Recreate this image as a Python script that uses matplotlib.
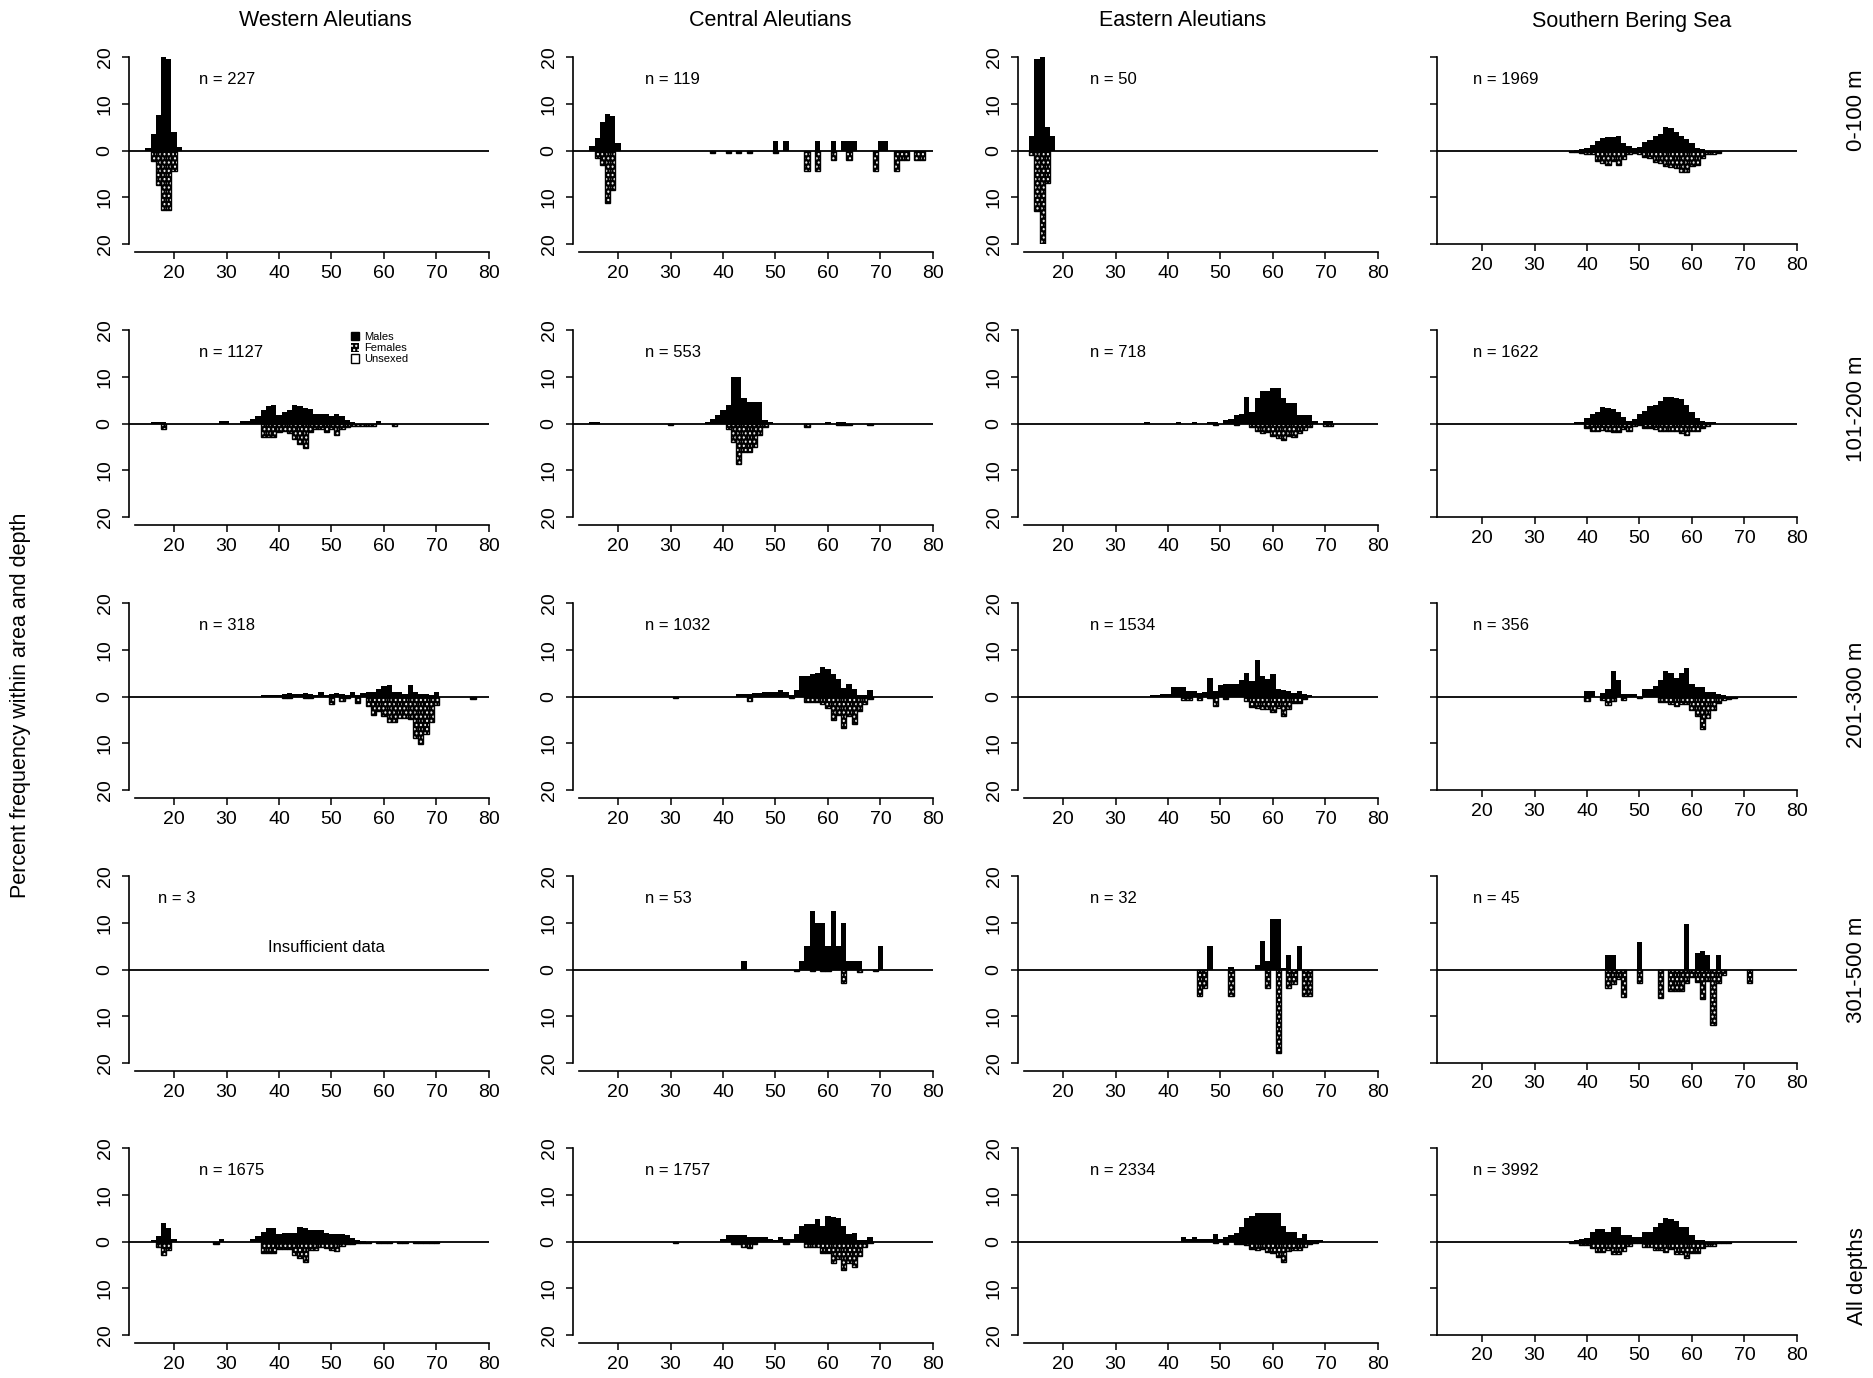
import matplotlib.pyplot as plt
from matplotlib.patches import Patch

plt.rcParams['font.family'] = ['Liberation Sans', 'DejaVu Sans']
plt.rcParams['hatch.linewidth'] = 1.0

areas = ["Western Aleutians", "Central Aleutians", "Eastern Aleutians", "Southern Bering Sea"]
depths = ["0-100 m", "101-200 m", "201-300 m", "301-500 m", "All depths"]
n_fish = [[227, 119, 50, 1969],
          [1127, 553, 718, 1622],
          [318, 1032, 1534, 356],
          [3, 53, 32, 45],
          [1675, 1757, 2334, 3992]]

# percent frequency by length (cm); males drawn up, females drawn down
wa_0100_m = {15: 0.5, 16: 3.5, 17: 7.5, 18: 20, 19: 19.5, 20: 4, 21: 0.8}
wa_0100_f = {16: 2.2, 17: 7.4, 18: 12.7, 19: 12.7, 20: 4.3}
ca_0100_m = {15: 0.9, 16: 2.6, 17: 6.2, 18: 7.8, 19: 7.4, 20: 1.7, 50: 2.1, 52: 2.1, 58: 2.1,
             61: 2.1, 63: 2.1, 64: 2.1, 65: 2.1, 70: 2.1, 71: 2.1}
ca_0100_f = {16: 1.6, 17: 3.0, 18: 11.3, 19: 8.4, 38: 0.5, 41: 0.5, 43: 0.5, 45: 0.5, 50: 0.5,
             56: 4.4, 58: 4.4, 61: 2.0, 64: 2.0, 69: 4.4, 73: 4.4, 74: 2.0, 75: 2.0, 77: 2.0, 78: 2.0}
ea_0100_m = {14: 3, 15: 19.5, 16: 20, 17: 5, 18: 3}
ea_0100_f = {14: 0.9, 15: 13, 16: 21, 17: 7}
sb_0100_m = {38: 0.2, 39: 0.3, 40: 0.5, 41: 1.2, 42: 2.0, 43: 2.7, 44: 2.8, 45: 2.8, 46: 3.0, 47: 1.5,
             48: 1.0, 49: 0.5, 50: 0.8, 51: 1.8, 52: 2.2, 53: 3.0, 54: 3.5, 55: 5.0, 56: 4.8, 57: 4.0,
             58: 3.0, 59: 2.5, 60: 1.5, 61: 0.5, 62: 0.3}
sb_0100_f = {37: 0.3, 38: 0.4, 39: 0.5, 40: 0.7, 41: 0.8, 42: 2.3, 43: 2.6, 44: 3.2, 45: 2.2, 46: 3.2,
             47: 1.8, 48: 0.8, 49: 0.6, 50: 0.8, 51: 1.3, 52: 1.5, 53: 2.4, 54: 2.6, 55: 3.3, 56: 3.6,
             57: 3.8, 58: 4.5, 59: 4.6, 60: 3.3, 61: 3.0, 62: 1.6, 63: 0.8, 64: 0.7, 65: 0.5}

wa_0200_m = {16: 0.4, 17: 0.4, 18: 0.4, 29: 0.5, 30: 0.5, 33: 0.5, 34: 0.5, 35: 0.9, 36: 1.6, 37: 2.9,
             38: 3.8, 39: 3.9, 40: 1.9, 41: 2.5, 42: 2.9, 43: 3.9, 44: 3.8, 45: 3.4, 46: 3.1, 47: 2.1,
             48: 2.1, 49: 2.1, 50: 1.6, 51: 2.1, 52: 1.6, 53: 0.7, 54: 0.4, 59: 0.5}
wa_0200_f = {18: 1.2, 37: 2.9, 38: 2.9, 39: 2.9, 40: 1.9, 41: 1.5, 42: 2.0, 43: 3.4, 44: 4.3, 45: 5.2,
             46: 1.9, 47: 1.2, 48: 1.2, 49: 1.9, 50: 1.1, 51: 2.4, 52: 1.2, 53: 0.7, 54: 0.6, 55: 0.5,
             56: 0.5, 57: 0.5, 58: 0.5, 62: 0.5}
ca_0200_m = {15: 0.4, 16: 0.4, 37: 0.4, 38: 0.9, 39: 1.8, 40: 2.9, 41: 3.9, 42: 10, 43: 10, 44: 5.4,
             45: 4.5, 46: 4.5, 47: 4.5, 48: 0.7, 49: 0.4, 60: 0.4, 62: 0.4, 63: 0.3}
ca_0200_f = {30: 0.4, 41: 1.1, 42: 3.9, 43: 8.6, 44: 6.2, 45: 6.2, 46: 5.0, 47: 2.5, 48: 0.8,
             56: 0.7, 62: 0.4, 63: 0.4, 64: 0.4, 68: 0.4}
ea_0200_m = {36: 0.4, 42: 0.4, 45: 0.4, 48: 0.4, 49: 0.4, 51: 0.7, 52: 0.9, 53: 1.8, 54: 2.1,
             55: 5.6, 56: 2.5, 57: 5.5, 58: 7.0, 59: 7.0, 60: 7.6, 61: 7.6, 62: 5.5, 63: 4.3, 64: 4.3,
             65: 1.9, 66: 1.8, 67: 1.9, 68: 0.5, 70: 0.5, 71: 0.5}
ea_0200_f = {49: 0.4, 53: 0.3, 56: 0.8, 57: 1.6, 58: 2.0, 59: 1.8, 60: 2.6, 61: 3.2, 62: 3.6, 63: 2.6,
             64: 2.8, 65: 2.0, 66: 1.4, 67: 0.8, 70: 0.5, 71: 0.5}
sb_0200_m = {38: 0.4, 39: 0.3, 40: 1.2, 41: 2.0, 42: 2.5, 43: 3.5, 44: 3.4, 45: 3.2, 46: 2.5, 47: 1.4,
             48: 0.6, 49: 1.0, 50: 2.0, 51: 2.6, 52: 3.7, 53: 4.0, 54: 4.8, 55: 5.6, 56: 5.6, 57: 5.4,
             58: 5.2, 59: 3.9, 60: 2.5, 61: 1.2, 62: 0.6, 63: 0.4, 64: 0.3}
sb_0200_f = {40: 0.9, 41: 1.6, 42: 1.6, 43: 1.3, 44: 1.5, 45: 1.8, 46: 1.8, 47: 1.1, 48: 1.6, 49: 0.5,
             50: 0.4, 51: 0.9, 52: 0.9, 53: 1.2, 54: 1.6, 55: 1.6, 56: 1.6, 57: 1.6, 58: 2.0, 59: 2.5,
             60: 1.6, 61: 1.6, 62: 0.9, 63: 0.5}

wa_0300_m = {37: 0.3, 38: 0.3, 39: 0.3, 40: 0.3, 41: 0.5, 42: 0.8, 43: 0.5, 44: 0.5, 45: 0.8, 46: 0.5,
             47: 0.3, 48: 1.0, 49: 0.3, 50: 0.5, 51: 0.8, 52: 0.5, 53: 0.3, 54: 1.0, 55: 0.3, 56: 0.8,
             57: 1.0, 58: 1.0, 59: 1.6, 60: 2.2, 61: 2.5, 62: 1.0, 63: 1.0, 64: 0.5, 65: 2.5, 66: 1.0,
             67: 0.5, 68: 0.5, 69: 0.3, 70: 0.9}
wa_0300_f = {41: 0.4, 42: 0.4, 45: 0.3, 46: 0.3, 50: 1.6, 52: 0.9, 53: 0.3, 55: 1.3, 57: 2.0, 58: 4.0,
             59: 3.1, 60: 4.1, 61: 5.4, 62: 5.4, 63: 4.5, 64: 4.5, 65: 4.9, 66: 8.8, 67: 10.2, 68: 8.0,
             69: 5.4, 70: 1.8, 77: 0.5}
ca_0300_m = {43: 0.5, 44: 0.5, 45: 0.5, 46: 0.7, 47: 0.7, 48: 0.9, 49: 0.9, 50: 1.0, 51: 1.4, 52: 0.9,
             53: 0.3, 54: 1.4, 55: 4.4, 56: 4.4, 57: 4.8, 58: 5.0, 59: 6.4, 60: 5.9, 61: 4.8, 62: 3.7,
             63: 1.9, 64: 2.6, 65: 1.6, 66: 0.3, 67: 0.3, 68: 1.4}
ca_0300_f = {31: 0.4, 45: 1.0, 53: 0.3, 56: 1.1, 57: 1.1, 58: 1.1, 59: 1.5, 60: 2.5, 61: 5.0, 62: 4.0,
             63: 6.8, 64: 4.1, 65: 5.8, 66: 3.0, 67: 1.6, 68: 0.5}
ea_0300_m = {37: 0.4, 38: 0.4, 39: 0.6, 40: 0.6, 41: 2.1, 42: 2.1, 43: 2.1, 44: 1.2, 45: 1.2, 46: 0.8,
             47: 1.0, 48: 3.9, 49: 1.2, 50: 2.5, 51: 2.6, 52: 2.6, 53: 2.6, 54: 3.5, 55: 5.1, 56: 3.4,
             57: 7.8, 58: 4.4, 59: 3.7, 60: 4.8, 61: 1.6, 62: 1.4, 63: 1.1, 64: 0.7, 65: 1.1, 66: 0.5,
             67: 0.4}
ea_0300_f = {43: 0.8, 44: 0.8, 46: 0.8, 48: 0.3, 49: 2.0, 51: 0.5, 55: 0.9, 56: 2.2, 57: 2.5, 58: 2.7,
             59: 2.7, 60: 3.4, 61: 2.4, 62: 4.1, 63: 2.7, 64: 1.3, 65: 1.3, 66: 0.6}
sb_0300_m = {40: 1.1, 41: 1.1, 43: 0.8, 44: 1.5, 45: 5.5, 46: 3.5, 47: 0.6, 48: 0.6, 49: 0.6, 51: 1.7,
             52: 1.7, 53: 2.3, 54: 3.5, 55: 5.4, 56: 5.1, 57: 3.9, 58: 5.0, 59: 6.0, 60: 2.7, 61: 2.0,
             62: 2.0, 63: 1.0, 64: 1.0, 65: 0.6, 66: 0.3}
sb_0300_f = {40: 0.9, 43: 0.8, 44: 1.9, 45: 1.0, 47: 0.8, 50: 0.4, 54: 1.2, 55: 1.2, 56: 1.5, 57: 2.0,
             58: 1.5, 59: 1.5, 60: 2.8, 61: 4.1, 62: 6.9, 63: 4.6, 64: 2.8, 65: 1.3, 66: 0.8, 67: 0.5,
             68: 0.3}

wa_0500_m = {}
wa_0500_f = {}
ca_0500_m = {44: 1.9, 55: 1.9, 56: 5.0, 57: 12.5, 58: 10.0, 59: 10.0, 60: 5.0, 61: 12.5, 62: 5.0,
             63: 10.0, 64: 1.9, 65: 1.9, 66: 1.9, 70: 5.0}
ca_0500_f = {54: 0.3, 57: 0.3, 59: 0.3, 60: 0.3, 63: 2.8, 66: 0.5, 69: 0.4}
ea_0500_m = {48: 5.0, 52: 0.5, 57: 1.0, 58: 6.2, 59: 1.9, 60: 10.9, 61: 10.9, 62: 0.3, 63: 3.1, 65: 5.0}
ea_0500_f = {46: 5.6, 47: 3.9, 52: 5.6, 59: 3.9, 61: 17.9, 63: 3.9, 64: 3.1, 66: 5.6, 67: 5.6}
sb_0500_m = {44: 3.0, 45: 3.0, 50: 5.9, 59: 9.8, 61: 3.6, 62: 4.0, 63: 3.0, 65: 3.0}
sb_0500_f = {44: 3.9, 45: 3.2, 46: 2.0, 47: 5.9, 50: 2.9, 54: 6.0, 56: 4.6, 57: 4.6, 58: 4.6, 59: 2.9,
             60: 1.5, 61: 2.7, 62: 6.4, 63: 2.5, 64: 11.8, 65: 2.9, 66: 1.1, 71: 2.9}

wa_all_m = {16: 0.4, 17: 1.2, 18: 3.9, 19: 2.9, 20: 0.5, 29: 0.5, 35: 0.5, 36: 1.2, 37: 2.1, 38: 2.9,
            39: 2.9, 40: 1.6, 41: 1.8, 42: 1.8, 43: 1.9, 44: 3.2, 45: 2.9, 46: 2.5, 47: 2.4, 48: 2.4,
            49: 1.8, 50: 1.6, 51: 1.6, 52: 1.6, 53: 1.4, 54: 0.7, 55: 0.3, 56: 0.2}
wa_all_f = {17: 1.1, 18: 2.9, 19: 1.8, 28: 0.5, 37: 2.5, 38: 2.5, 39: 2.5, 40: 1.6, 41: 1.6, 42: 1.6,
            43: 2.9, 44: 3.6, 45: 4.3, 46: 1.9, 47: 1.9, 48: 1.2, 49: 1.4, 50: 1.9, 51: 2.1, 52: 1.0,
            53: 0.5, 54: 0.5, 55: 0.3, 56: 0.3, 57: 0.3, 59: 0.3, 60: 0.3, 61: 0.3, 63: 0.3, 64: 0.3,
            66: 0.3, 67: 0.3, 68: 0.3, 69: 0.3, 70: 0.3}
ca_all_m = {40: 0.5, 41: 1.4, 42: 1.4, 43: 1.4, 44: 1.4, 45: 0.9, 46: 0.9, 47: 0.9, 48: 0.9, 49: 0.5,
            50: 0.3, 51: 0.9, 52: 0.5, 53: 0.5, 54: 1.6, 55: 3.4, 56: 3.8, 57: 3.8, 58: 4.8, 59: 3.4,
            60: 5.5, 61: 5.2, 62: 5.0, 63: 3.4, 64: 1.6, 65: 1.9, 66: 0.3, 67: 0.3, 68: 0.9}
ca_all_f = {31: 0.4, 42: 0.5, 43: 0.5, 44: 1.1, 45: 1.4, 46: 0.5, 52: 0.5, 56: 1.1, 57: 1.1, 58: 1.1,
            59: 2.5, 60: 2.5, 61: 4.5, 62: 3.8, 63: 6.2, 64: 4.5, 65: 5.4, 66: 3.1, 67: 1.2, 68: 0.4}
ea_all_m = {43: 0.9, 44: 0.5, 45: 0.9, 46: 0.5, 47: 0.5, 48: 0.5, 49: 1.6, 50: 0.5, 51: 0.9, 52: 1.4,
            53: 1.9, 54: 3.2, 55: 5.0, 56: 5.5, 57: 6.1, 58: 6.2, 59: 6.2, 60: 6.2, 61: 6.2, 62: 3.4,
            63: 2.1, 64: 2.1, 65: 0.7, 66: 1.6, 67: 0.4, 68: 0.3, 69: 0.3}
ea_all_f = {49: 0.3, 51: 0.5, 53: 0.5, 54: 0.6, 55: 0.8, 56: 1.6, 57: 1.9, 58: 1.6, 59: 2.2, 60: 2.5,
            61: 3.4, 62: 4.3, 63: 2.1, 64: 1.8, 65: 1.8, 66: 1.2, 67: 0.5, 68: 0.3}
sb_all_m = {37: 0.2, 38: 0.3, 39: 0.5, 40: 0.8, 41: 2.1, 42: 2.7, 43: 2.7, 44: 2.1, 45: 3.2, 46: 3.2,
            47: 1.4, 48: 1.4, 49: 0.9, 50: 0.9, 51: 2.1, 52: 2.1, 53: 3.2, 54: 4.0, 55: 5.1, 56: 4.9,
            57: 4.3, 58: 3.2, 59: 3.2, 60: 1.3, 61: 0.4, 62: 0.3}
sb_all_f = {37: 0.4, 38: 0.4, 39: 0.7, 40: 0.7, 41: 1.4, 42: 2.3, 43: 2.3, 44: 1.8, 45: 2.7, 46: 2.7,
            47: 2.1, 48: 0.9, 49: 0.4, 50: 0.4, 51: 1.1, 52: 1.1, 53: 1.8, 54: 1.8, 55: 2.3, 56: 1.6,
            57: 2.7, 58: 2.7, 59: 3.6, 60: 2.5, 61: 2.5, 62: 1.4, 63: 0.9, 64: 0.9, 65: 0.4, 66: 0.4,
            67: 0.4}

males = [[wa_0100_m, ca_0100_m, ea_0100_m, sb_0100_m],
         [wa_0200_m, ca_0200_m, ea_0200_m, sb_0200_m],
         [wa_0300_m, ca_0300_m, ea_0300_m, sb_0300_m],
         [wa_0500_m, ca_0500_m, ea_0500_m, sb_0500_m],
         [wa_all_m, ca_all_m, ea_all_m, sb_all_m]]
females = [[wa_0100_f, ca_0100_f, ea_0100_f, sb_0100_f],
           [wa_0200_f, ca_0200_f, ea_0200_f, sb_0200_f],
           [wa_0300_f, ca_0300_f, ea_0300_f, sb_0300_f],
           [wa_0500_f, ca_0500_f, ea_0500_f, sb_0500_f],
           [wa_all_f, ca_all_f, ea_all_f, sb_all_f]]

W, H = 1873, 1378
fig = plt.figure(figsize=(W / 100, H / 100), dpi=100)

col_left = [129, 573, 1018, 1437]
row_top = [57, 330, 603, 876, 1148]
ax_w, ax_h = 363, 187
n_x = [24.8, 25.2, 25.2, 18.2]

for r in range(5):
    for c in range(4):
        ax = fig.add_axes([col_left[c] / W, 1 - (row_top[r] + ax_h) / H, ax_w / W, ax_h / H])
        m = males[r][c]
        f = females[r][c]
        if m:
            ax.bar(list(m.keys()), list(m.values()), width=1, color='black', lw=0)
        if f:
            fx = list(f.keys())
            fy = [-v for v in f.values()]
            # black fill with white dots, then a black outline
            ax.bar(fx, fy, width=1, facecolor='black', edgecolor='white', hatch='....', lw=0)
            ax.bar(fx, fy, width=1, fill=False, edgecolor='black', lw=1.0)
        ax.hlines(0, 11.4, 80, color='black', lw=1.3)
        ax.set_xlim(11.4, 80.6)
        ax.set_ylim(-20, 20)

        for s in ['top', 'right']:
            ax.spines[s].set_visible(False)
        ax.spines['left'].set_bounds(-20, 20)
        if c < 3:
            ax.spines['bottom'].set_position(('outward', 6))
            ax.spines['bottom'].set_bounds(12.5, 80)
        else:
            ax.spines['bottom'].set_bounds(11.4, 80)
        ax.spines['left'].set_linewidth(1.2)
        ax.spines['bottom'].set_linewidth(1.2)

        ax.set_xticks([20, 30, 40, 50, 60, 70, 80])
        ax.set_yticks([-20, -10, 0, 10, 20])
        if c < 3:
            ax.set_yticklabels(['20', '10', '0', '10', '20'], rotation=90, va='center')
        else:
            ax.set_yticklabels([])
        ax.tick_params(axis='both', labelsize=14, length=5, width=1.1, direction='out')
        ax.tick_params(axis='y', pad=6)
        ax.tick_params(axis='x', pad=4)

        nx = 17.0 if (r == 3 and c == 0) else n_x[c]
        ax.text(nx, 15.2, f"n = {n_fish[r][c]}", fontsize=12, va='center', ha='left')

        if r == 3 and c == 0:
            ax.text(49, 4.6, "Insufficient data", fontsize=12, ha='center', va='center')
        if r == 1 and c == 0:
            handles = [Patch(facecolor='black', edgecolor='black'),
                       Patch(facecolor='black', edgecolor='white', hatch='....', lw=0),
                       Patch(facecolor='white', edgecolor='black')]
            ax.legend(handles, ['Males', 'Females', 'Unsexed'], loc='upper left',
                      bbox_to_anchor=(0.595, 1.02), frameon=False, fontsize=8,
                      handlelength=0.8, handleheight=0.8, labelspacing=0.1,
                      borderpad=0, handletextpad=0.4)

title_x = [325, 770, 1183, 1632]
for c in range(4):
    fig.text(title_x[c] / W, 1 - 21 / H, areas[c], fontsize=15.5, ha='center', va='center')

depth_y = [110, 409, 695, 970, 1276]
for r in range(5):
    fig.text(1857 / W, 1 - depth_y[r] / H, depths[r], fontsize=16, rotation=90,
             ha='center', va='center')

fig.text(21 / W, 1 - 705 / H, "Percent frequency within area and depth", fontsize=15.5,
         rotation=90, ha='center', va='center')

fig.savefig('out.png', dpi=100)
